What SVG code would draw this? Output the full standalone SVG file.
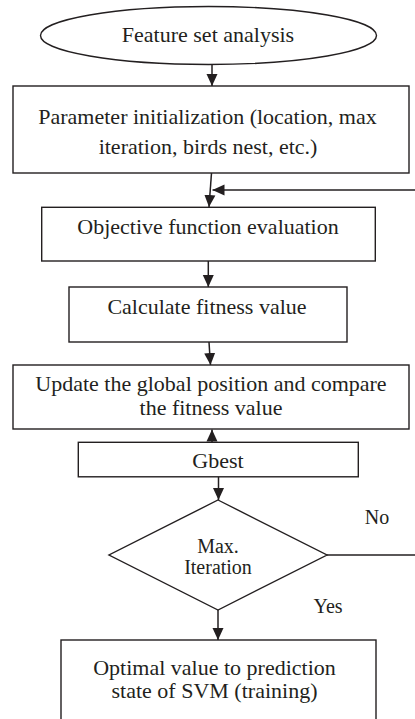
<svg xmlns="http://www.w3.org/2000/svg" width="415" height="719" viewBox="0 0 415 719">
<style>
.shape{fill:#fff;stroke:#231f20;stroke-width:1.4}
.t{font-family:"Liberation Serif","Times New Roman",serif;font-size:22px;fill:#231f20;text-anchor:middle}
.s{font-size:20px}
.conn line{stroke:#231f20;stroke-width:1.5}
</style>
<defs>
<marker id="ah" markerUnits="userSpaceOnUse" markerWidth="12" markerHeight="12" viewBox="0 0 12 12" refX="12" refY="6" orient="auto">
<path d="M0,0.5 L12,6 L0,11.5 Z" fill="#231f20"/>
</marker>
</defs>
<rect width="415" height="719" fill="#fff"/>
<g id="n-feature">
<ellipse class="shape" cx="208.5" cy="35.5" rx="168" ry="29"/>
<text class="t" x="208" y="42">Feature set analysis</text>
</g>
<g id="n-param">
<rect class="shape" x="13" y="86" width="396" height="87"/>
<text class="t" x="207.5" y="124">Parameter initialization (location, max</text>
<text class="t" x="208" y="154">iteration, birds nest, etc.)</text>
</g>
<g id="n-objective">
<rect class="shape" x="41.7" y="207.3" width="333.6" height="53.7"/>
<text class="t" x="208" y="234">Objective function evaluation</text>
</g>
<g id="n-fitness">
<rect class="shape" x="69" y="287" width="278" height="55"/>
<text class="t" x="207" y="314">Calculate fitness value</text>
</g>
<g id="n-update">
<rect class="shape" x="13" y="365" width="396" height="64"/>
<text class="t" x="211" y="391">Update the global position and compare</text>
<text class="t" x="211" y="414.5">the fitness value</text>
</g>
<g id="n-gbest">
<rect class="shape" x="78.3" y="442.3" width="280" height="34.5"/>
<text class="t" x="218" y="468">Gbest</text>
</g>
<g id="n-maxiter">
<polygon class="shape" points="218,500 327,555 218,610 109,555"/>
<text class="t s" x="218" y="553">Max.</text>
<text class="t s" x="218" y="573.5">Iteration</text>
</g>
<g id="n-optimal">
<rect class="shape" x="61" y="640" width="315" height="95"/>
<text class="t" x="214.5" y="675">Optimal value to prediction</text>
<text class="t" x="214.5" y="698">state of SVM (training)</text>
</g>
<g id="connectors" class="conn">
<line x1="212" y1="64.5" x2="212" y2="86" marker-end="url(#ah)"/>
<line x1="211.5" y1="173" x2="209" y2="207" marker-end="url(#ah)"/>
<line x1="415" y1="190" x2="212.5" y2="190" marker-end="url(#ah)"/>
<line x1="208.3" y1="261" x2="208.3" y2="287" marker-end="url(#ah)"/>
<line x1="209" y1="342" x2="210.5" y2="365" marker-end="url(#ah)"/>
<line x1="212" y1="442.3" x2="212" y2="429.5" marker-end="url(#ah)"/>
<line x1="218.5" y1="477" x2="218.5" y2="500" marker-end="url(#ah)"/>
<line x1="327" y1="555" x2="415" y2="555"/>
<line x1="218" y1="610" x2="218" y2="640" marker-end="url(#ah)"/>
<text class="t s" x="377" y="524">No</text>
<text class="t s" x="328" y="612.7">Yes</text>
</g>
</svg>
